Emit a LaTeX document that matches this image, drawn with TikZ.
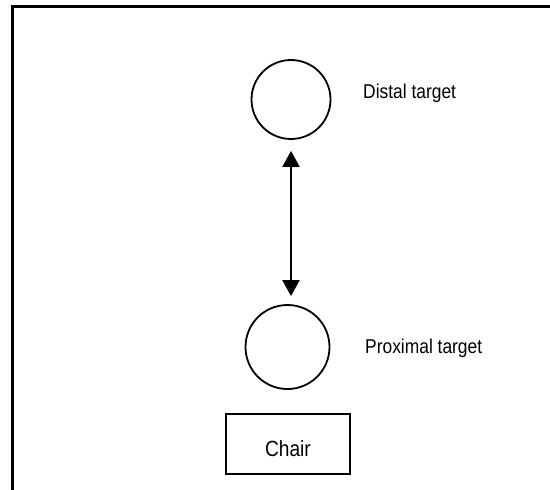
\documentclass[tikz,border=0pt]{standalone}
\usepackage{fontspec}
\setmainfont{Liberation Sans}[FakeStretch=0.87]
\usetikzlibrary{arrows.meta}
\tikzset{
  target/.style={draw, circle, line width=1.8pt, inner sep=0pt},
  lbl/.style={anchor=base west, inner sep=0pt, font=\fontsize{20pt}{22pt}\selectfont},
  chairbox/.style={draw, rectangle, line width=1.8pt, minimum width=124pt, minimum height=60pt, inner sep=0pt},
  link/.style={line width=2.2pt, {Triangle[width=17pt,length=16pt]}-{Triangle[width=17pt,length=16pt]}},
  frame/.style={line width=3pt}
}
\begin{document}
\begin{tikzpicture}[x=1pt,y=-1pt]
\useasboundingbox (0,0) rectangle (550,490);
\clip (0,0) rectangle (550,490);
\fill[white] (0,0) rectangle (550,490);
\draw[frame] (12,500) -- (12,6) -- (560,6);
\node[target, minimum size=79pt] (d) at (291,99.5) {};
\node[target, minimum size=84pt] (p) at (287.5,347) {};
\node[lbl] (dl) at (363,98) {Distal target};
\node[lbl] (pl) at (365,353.3) {Proximal target};
\node[chairbox] (c) at (288,444) {};
\node[anchor=base, inner sep=0pt, font=\fontsize{22pt}{24pt}\selectfont] (ct) at (288,456) {Chair};
\draw[link] ([yshift=-11pt]d.south) -- ([yshift=8pt]d.south |- p.north);
\end{tikzpicture}
\end{document}
